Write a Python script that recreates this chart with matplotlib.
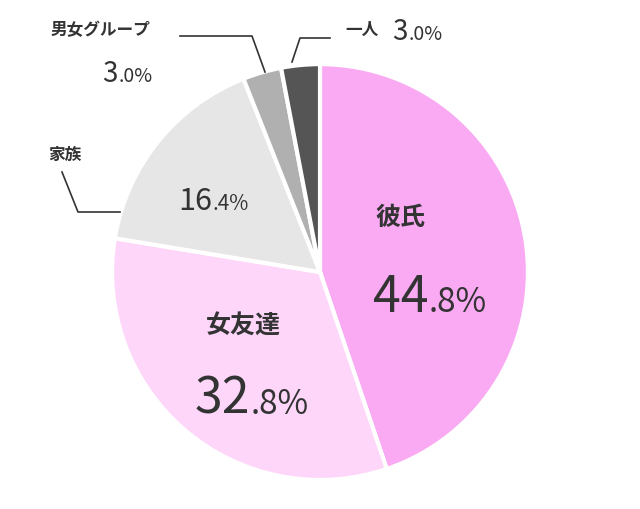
import matplotlib
matplotlib.use("Agg")
import matplotlib.pyplot as plt

labels = ["彼氏", "女友達", "家族", "男女グループ", "一人"]
values = [44.8, 32.8, 16.4, 3.0, 3.0]
colors = ["#F9AAF2", "#FDD6F9", "#E6E6E6", "#B0B0B0", "#555555"]

W, H = 640, 509
fig = plt.figure(figsize=(W / 100, H / 100), dpi=100)
ax = fig.add_axes([0.175, 0.057, 0.65, 0.817])
ax.pie(values, colors=colors, startangle=90, counterclock=False,
       wedgeprops=dict(edgecolor="white", linewidth=3))
ax.set_xlim(-1, 1)
ax.set_ylim(-1, 1)
ax.set_aspect("equal")

JP = "Noto Sans CJK JP"
TC = "#333333"


def P(x, y):
    return x / W, 1 - y / H


def pct(v, x, y, big, small):
    # whole part large, decimal and % smaller, split at x
    s = f"{v:.1f}"
    whole, dec = s.split(".")
    fig.text(*P(x, y), whole, fontsize=big, ha="right", va="baseline",
             color=TC, family=JP)
    fig.text(*P(x + 1, y), "." + dec + "%", fontsize=small, ha="left", va="baseline",
             color=TC, family=JP)


# 彼氏
fig.text(*P(400, 218), labels[0], fontsize=18, ha="center", va="center",
         color=TC, family=JP, fontweight="bold")
pct(values[0], 428, 312, 36, 24)
# 女友達
fig.text(*P(243, 326), labels[1], fontsize=18, ha="center", va="center",
         color=TC, family=JP, fontweight="bold")
pct(values[1], 250, 414, 36, 24)
# 家族
fig.text(*P(65, 155), labels[2], fontsize=12, ha="center", va="center",
         color=TC, family=JP, fontweight="bold")
pct(values[2], 212, 210, 22, 15)
# 男女グループ
fig.text(*P(100, 30), labels[3], fontsize=12, ha="center", va="center",
         color=TC, family=JP, fontweight="bold")
pct(values[3], 118, 82, 20, 14)
# 一人
fig.text(*P(362, 30), labels[4], fontsize=12, ha="center", va="center",
         color=TC, family=JP, fontweight="bold")
pct(values[4], 408, 40, 20, 14)

# leader lines
for pts in ([(292, 62), (300, 38), (330, 38)],
            [(265, 72), (252, 36), (180, 36)],
            [(62, 172), (78, 212), (120, 212)]):
    xs = [p[0] / W for p in pts]
    ys = [1 - p[1] / H for p in pts]
    fig.add_artist(plt.Line2D(xs, ys, color=TC, lw=1.2, transform=fig.transFigure))

fig.savefig("out.png", dpi=100, facecolor="white")
